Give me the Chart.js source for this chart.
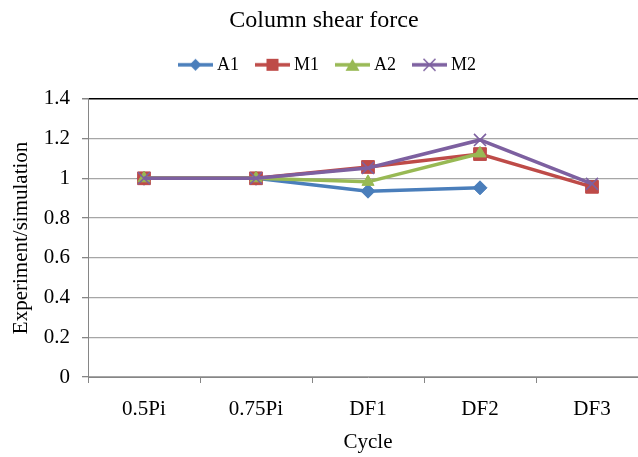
<!DOCTYPE html>
<html>
<head>
<meta charset="utf-8">
<script src="https://cdn.jsdelivr.net/npm/chart.js@4.4.1/dist/chart.umd.min.js"></script>
<style>
  html, body { margin: 0; padding: 0; background: #fff; overflow: hidden; }
  #wrap { width: 650px; height: 457px; }
</style>
</head>
<body>
<div id="wrap"><canvas id="shearChart" width="650" height="457"></canvas></div>
<script>
// data
const cycles = ['0.5Pi', '0.75Pi', 'DF1', 'DF2', 'DF3'];
const a1 = [1, 1, 0.935, 0.952, null];
const m1 = [1, 1, 1.057, 1.122, 0.957];
const a2 = [1, 1, 0.982, 1.125, null];
const m2 = [1, 1, 1.052, 1.193, 0.972];
const yTicks = [0, 0.2, 0.4, 0.6, 0.8, 1, 1.2, 1.4];

const serif = '"Liberation Serif", "Times New Roman", serif';

// legend symbol: short line with the marker on it
// (drawn shifted right inside a wider canvas so it sits close to its text)
function legendIcon(color, style) {
    const c = document.createElement('canvas');
    c.width = 50; c.height = 14;
    const g = c.getContext('2d');
    const x0 = 13, mid = x0 + 17.5;
    g.strokeStyle = color;
    g.fillStyle = color;
    g.lineWidth = 3.5;
    g.beginPath(); g.moveTo(x0, 7); g.lineTo(x0 + 35, 7); g.stroke();
    g.beginPath();
    if (style === 'diamond') {
        g.moveTo(mid, 1); g.lineTo(mid + 6, 7); g.lineTo(mid, 13); g.lineTo(mid - 6, 7); g.closePath(); g.fill();
    } else if (style === 'square') {
        g.fillRect(mid - 6, 1, 12, 12);
    } else if (style === 'triangle') {
        g.moveTo(mid, 1); g.lineTo(mid + 7, 13); g.lineTo(mid - 7, 13); g.closePath(); g.fill();
    } else {
        g.lineWidth = 1.5;
        g.moveTo(mid - 6, 1); g.lineTo(mid + 6, 13); g.moveTo(mid + 6, 1); g.lineTo(mid - 6, 13); g.stroke();
    }
    return c;
}

function series(label, data, color, pointStyle, radius, icon, order) {
    return {
        label: label,
        data: data,
        borderColor: color,
        backgroundColor: color,
        borderWidth: 3.5,
        pointStyle: pointStyle,
        pointRadius: radius,
        pointBorderWidth: pointStyle === 'crossRot' ? 1.6 : 1,
        pointBackgroundColor: color,
        pointBorderColor: color,
        legendIcon: legendIcon(color, icon),
        tension: 0,
        order: order
    };
}

// extra room under the legend
const legendGap = {
    id: 'legendGap',
    beforeInit(chart) {
        const fit = chart.legend.fit;
        chart.legend.fit = function () {
            fit.bind(chart.legend)();
            this.height += 15;
        };
    }
};

const ctx = document.getElementById('shearChart').getContext('2d');
new Chart(ctx, {
    type: 'line',
    data: {
        labels: cycles,
        datasets: [
            series('A1', a1, '#4A7EBB', 'rectRot', 7, 'diamond', 4),
            series('M1', m1, '#BE4B48', 'rect', 9, 'square', 3),
            series('A2', a2, '#98B954', 'triangle', 7, 'triangle', 2),
            series('M2', m2, '#7D60A0', 'crossRot', 8.5, 'cross', 1)
        ]
    },
    plugins: [legendGap],
    options: {
        responsive: false,
        animation: false,
        layout: { autoPadding: false, padding: { left: 0, right: 2, top: 0, bottom: 0 } },
        plugins: {
            title: {
                display: true,
                text: 'Column shear force',
                color: '#000',
                font: { family: serif, size: 24, weight: 'normal' },
                padding: { top: 6, bottom: 11 }
            },
            legend: {
                display: true,
                labels: {
                    color: '#000',
                    font: { family: serif, size: 18 },
                    usePointStyle: true,
                    pointStyleWidth: 36,
                    boxHeight: 14,
                    padding: 10,
                    sort: (a, b) => a.datasetIndex - b.datasetIndex,
                    generateLabels: (chart) => chart.data.datasets.map((ds, i) => ({
                        text: ds.label,
                        fillStyle: ds.borderColor,
                        strokeStyle: ds.borderColor,
                        lineWidth: 0,
                        pointStyle: ds.legendIcon,
                        fontColor: '#000',
                        hidden: false,
                        datasetIndex: i
                    }))
                }
            },
            tooltip: { enabled: false }
        },
        scales: {
            x: {
                offset: true,
                afterFit: (scale) => { scale.height = 80; },
                grid: {
                    offset: true,
                    drawOnChartArea: false,
                    drawTicks: true,
                    tickLength: 6,
                    color: '#868686'
                },
                border: { color: '#868686', width: 1 },
                ticks: {
                    color: '#000',
                    font: { family: serif, size: 21 },
                    padding: 14,
                    maxRotation: 0
                },
                title: {
                    display: true,
                    text: 'Cycle',
                    color: '#000',
                    font: { family: serif, size: 21 },
                    padding: { top: 6, bottom: 2 }
                }
            },
            y: {
                min: 0,
                max: 1.4,
                afterFit: (scale) => { scale.width = 88; },
                afterBuildTicks: (scale) => { scale.ticks = yTicks.map(v => ({ value: v })); },
                grid: {
                    color: (c) => c.tick && c.tick.value === 1.4 ? '#000' : '#A6A6A6',
                    lineWidth: (c) => c.tick && c.tick.value === 1.4 ? 1.5 : 1.3,
                    tickLength: 6,
                    tickColor: '#868686'
                },
                border: { color: '#868686', width: 1 },
                ticks: {
                    color: '#000',
                    font: { family: serif, size: 21 },
                    padding: 12,
                    callback: (v) => String(v)
                },
                title: {
                    display: true,
                    text: 'Experiment/simulation',
                    color: '#000',
                    font: { family: serif, size: 21 },
                    padding: { top: 9, bottom: 4 }
                }
            }
        }
    }
});
</script>
</body>
</html>
